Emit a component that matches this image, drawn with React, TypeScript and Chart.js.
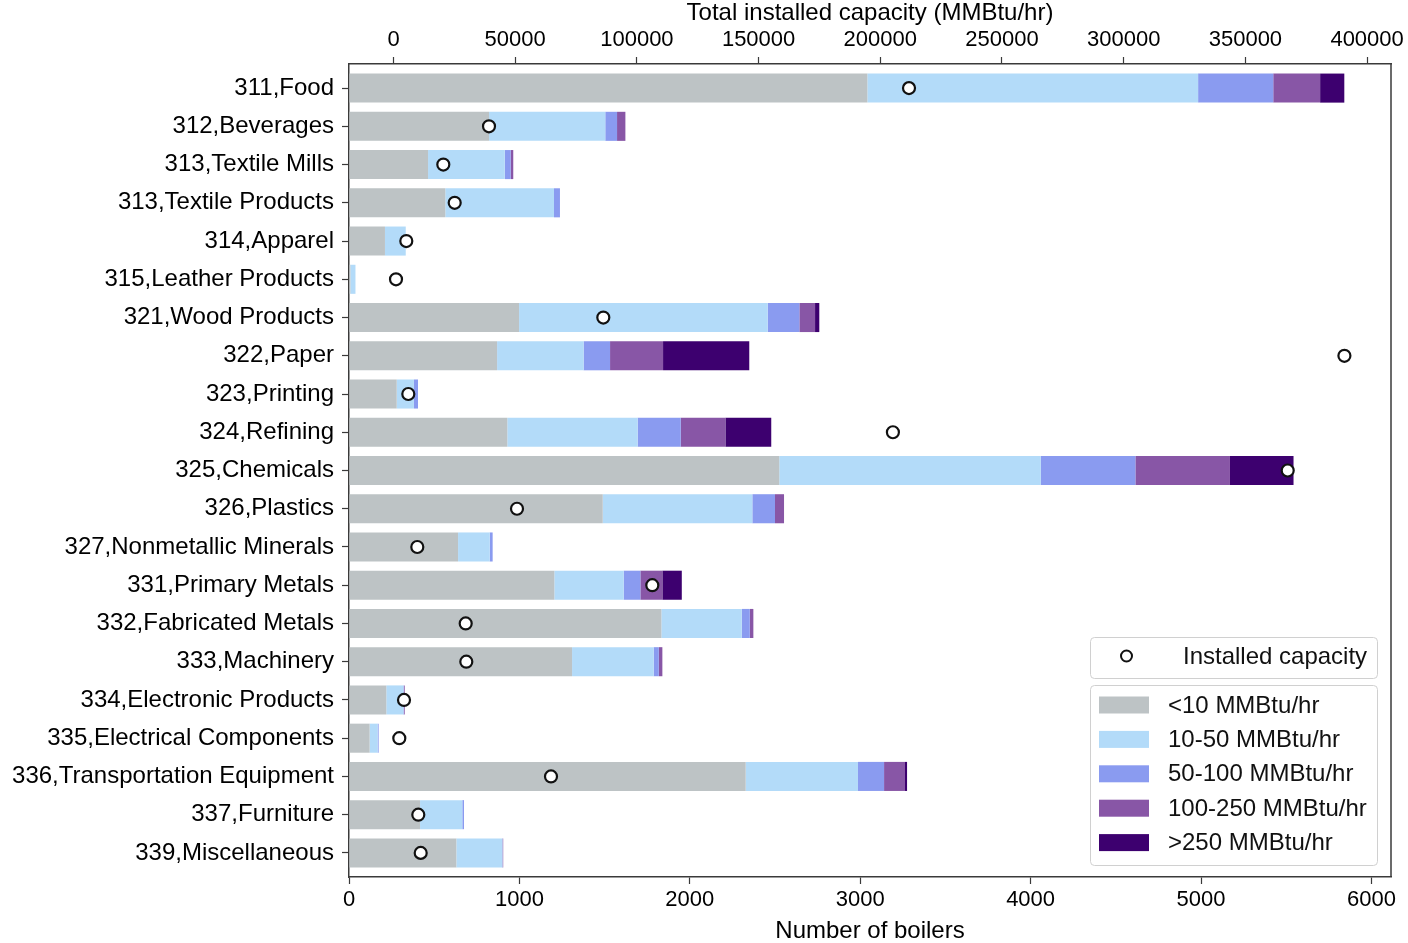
import React, { useEffect, useRef } from 'react';
import { Chart, registerables } from 'chart.js';

Chart.register(...registerables);

const CATEGORIES = [
  '311,Food', '312,Beverages', '313,Textile Mills', '313,Textile Products', '314,Apparel',
  '315,Leather Products', '321,Wood Products', '322,Paper', '323,Printing', '324,Refining',
  '325,Chemicals', '326,Plastics', '327,Nonmetallic Minerals', '331,Primary Metals',
  '332,Fabricated Metals', '333,Machinery', '334,Electronic Products', '335,Electrical Components',
  '336,Transportation Equipment', '337,Furniture', '339,Miscellaneous',
];

const SERIES_LABELS = ['<10 MMBtu/hr', '10-50 MMBtu/hr', '50-100 MMBtu/hr', '100-250 MMBtu/hr', '>250 MMBtu/hr'];
const CAPACITY_LABEL = 'Installed capacity';

// Number of boilers per size class
const LT10 = [3042, 822, 464, 565, 211, 8, 998, 869, 280, 929, 2525, 1489, 640, 1205, 1833, 1309, 219, 121, 2328, 417, 630];
const R10_50 = [1941, 682, 450, 638, 122, 30, 1459, 508, 101, 765, 1535, 878, 186, 407, 472, 479, 100, 47, 659, 248, 270];
const R50_100 = [441, 69, 35, 35, 0, 0, 186, 155, 24, 253, 555, 133, 17, 98, 47, 30, 3, 6, 153, 10, 1];
const R100_250 = [275, 49, 15, 0, 0, 0, 92, 311, 0, 262, 555, 53, 0, 129, 21, 21, 5, 0, 123, 0, 4];
const GT250 = [142, 0, 0, 0, 0, 0, 25, 506, 0, 269, 373, 0, 0, 114, 0, 0, 0, 0, 12, 0, 0];

// Total installed capacity (MMBtu/hr)
const CAPACITY = [211793, 39236, 20460, 25144, 5259, 1027, 86196, 390677, 6081, 205179, 367382, 50740, 9778, 106328, 29663, 29910, 4314, 2383, 64709, 10189, 11175];

const BOTTOM_TICKS = [0, 1000, 2000, 3000, 4000, 5000, 6000];
const TOP_TICKS = [0, 50000, 100000, 150000, 200000, 250000, 300000, 350000, 400000];

const SERIES_COLORS = ['#BDC3C5', '#B3DBF9', '#8A9BF0', '#8856A6', '#3D006F'];
const FONT = "'Liberation Sans', Arial, Helvetica, sans-serif";
const AXIS_COLOR = '#3a3a3a';

const framePlugin = {
  id: 'frame',
  afterDatasetsDraw(chart: any) {
    const { ctx, chartArea } = chart;
    ctx.save();
    ctx.strokeStyle = AXIS_COLOR;
    ctx.lineWidth = 1.5;
    ctx.beginPath();
    ctx.moveTo(chartArea.right, chartArea.top);
    ctx.lineTo(chartArea.right, chartArea.bottom);
    ctx.stroke();
    ctx.restore();
  },
};

function roundRectPath(ctx: CanvasRenderingContext2D, x: number, y: number, w: number, h: number, r: number) {
  ctx.beginPath();
  ctx.moveTo(x + r, y);
  ctx.lineTo(x + w - r, y);
  ctx.arcTo(x + w, y, x + w, y + r, r);
  ctx.lineTo(x + w, y + h - r);
  ctx.arcTo(x + w, y + h, x + w - r, y + h, r);
  ctx.lineTo(x + r, y + h);
  ctx.arcTo(x, y + h, x, y + h - r, r);
  ctx.lineTo(x, y + r);
  ctx.arcTo(x, y, x + r, y, r);
  ctx.closePath();
}

const legendPlugin = {
  id: 'customLegend',
  afterDraw(chart: any) {
    const ctx: CanvasRenderingContext2D = chart.ctx;
    ctx.save();
    ctx.font = `24px ${FONT}`;
    ctx.textBaseline = 'middle';
    ctx.textAlign = 'left';

    // Box for the scatter marker
    roundRectPath(ctx, 1090.5, 637.5, 287, 41, 4);
    ctx.fillStyle = 'rgba(255,255,255,0.85)';
    ctx.fill();
    ctx.strokeStyle = '#d0d0d0';
    ctx.lineWidth = 1;
    ctx.stroke();
    ctx.beginPath();
    ctx.arc(1126.5, 656, 5.5, 0, Math.PI * 2);
    ctx.fillStyle = '#ffffff';
    ctx.fill();
    ctx.lineWidth = 2;
    ctx.strokeStyle = '#111';
    ctx.stroke();
    ctx.fillStyle = '#111';
    ctx.fillText(CAPACITY_LABEL, 1183, 657);

    // Box for the bar series
    roundRectPath(ctx, 1090.5, 685.5, 287, 180, 4);
    ctx.fillStyle = 'rgba(255,255,255,0.85)';
    ctx.fill();
    ctx.strokeStyle = '#d0d0d0';
    ctx.lineWidth = 1;
    ctx.stroke();
    const barSets = chart.data.datasets.filter((d: any) => d.type === 'bar');
    barSets.forEach((d: any, i: number) => {
      const cy = 705 + i * 34.4;
      ctx.fillStyle = d.backgroundColor;
      ctx.fillRect(1099, cy - 8.5, 50, 17);
      ctx.fillStyle = '#111';
      ctx.fillText(d.label, 1168, cy + 1);
    });
    ctx.restore();
  },
};

export default function App() {
  const ref = useRef<HTMLCanvasElement>(null);

  useEffect(() => {
    const canvas = ref.current;
    if (!canvas) return;
    const seriesArrays = [LT10, R10_50, R50_100, R100_250, GT250];
    const datasets: any[] = seriesArrays.map((arr, k) => ({
      type: 'bar',
      label: SERIES_LABELS[k],
      data: arr.map((v, i) => ({ x: v, y: i })),
      indexAxis: 'y',
      xAxisID: 'x',
      yAxisID: 'y',
      stack: 'boilers',
      grouped: false,
      backgroundColor: SERIES_COLORS[k],
      borderWidth: 0,
      barPercentage: 0.76,
      categoryPercentage: 1,
      order: 1,
    }));
    datasets.push({
      type: 'scatter',
      label: CAPACITY_LABEL,
      data: CAPACITY.map((v, i) => ({ x: v, y: i })),
      indexAxis: 'x',
      xAxisID: 'x2',
      yAxisID: 'y',
      pointRadius: 6,
      pointHoverRadius: 6,
      pointBackgroundColor: '#ffffff',
      pointBorderColor: '#111111',
      pointBorderWidth: 2.2,
      order: 0,
    });

    const tickFont = { family: FONT, size: 22 };

    const chart = new Chart(canvas, {
      type: 'bar',
      data: { datasets },
      plugins: [framePlugin, legendPlugin],
      options: {
        responsive: false,
        animation: false,
        events: [],
        layout: { padding: { left: 0, top: 0, bottom: 0, right: 17 } },
        plugins: { legend: { display: false }, tooltip: { enabled: false } },
        scales: {
          x: {
            type: 'linear',
            axis: 'x',
            position: 'bottom',
            min: 0,
            max: 6115,
            offset: false,
            stacked: true,
            grid: { drawOnChartArea: false, drawTicks: true, tickLength: 7, tickColor: AXIS_COLOR, tickWidth: 1.2, offset: false },
            border: { display: true, color: AXIS_COLOR, width: 1.5 },
            afterBuildTicks: (s: any) => { s.ticks = BOTTOM_TICKS.map((v) => ({ value: v })); },
            afterFit: (s: any) => { s.height = 66; s.paddingLeft = 0; s.paddingRight = 0; },
            ticks: { autoSkip: false, maxRotation: 0, padding: 3, color: '#000', font: tickFont, callback: (v: any) => String(v) },
            title: { display: true, text: 'Number of boilers', color: '#000', font: { family: FONT, size: 24, lineHeight: 0.95 }, padding: { top: 0, bottom: 0 } },
          },
          x2: {
            type: 'linear',
            axis: 'x',
            position: 'top',
            min: -18283,
            max: 409820,
            offset: false,
            grid: { drawOnChartArea: false, drawTicks: true, tickLength: 7, tickColor: AXIS_COLOR, tickWidth: 1.2, offset: false },
            border: { display: true, color: AXIS_COLOR, width: 1.5 },
            afterBuildTicks: (s: any) => { s.ticks = TOP_TICKS.map((v) => ({ value: v })); },
            afterFit: (s: any) => { s.height = 64; s.paddingLeft = 0; s.paddingRight = 0; },
            ticks: { autoSkip: false, maxRotation: 0, padding: 4, color: '#000', font: tickFont, callback: (v: any) => String(v) },
            title: { display: true, text: 'Total installed capacity (MMBtu/hr)', color: '#000', font: { family: FONT, size: 24, lineHeight: 1.15 }, padding: { top: 0, bottom: 0 } },
          },
          y: {
            type: 'linear',
            axis: 'y',
            position: 'left',
            min: -0.63,
            max: 20.63,
            reverse: true,
            offset: false,
            beginAtZero: false,
            grid: { drawOnChartArea: false, drawTicks: true, tickLength: 7, tickColor: AXIS_COLOR, tickWidth: 1.2, offset: false },
            border: { display: true, color: AXIS_COLOR, width: 1.5 },
            afterBuildTicks: (s: any) => { s.ticks = CATEGORIES.map((_, i) => ({ value: i })); },
            afterFit: (s: any) => { s.width = 349; s.paddingTop = 0; s.paddingBottom = 0; },
            ticks: {
              autoSkip: false,
              padding: 8,
              color: '#000',
              font: { family: FONT, size: 24 },
              callback: (v: any) => CATEGORIES[v as number] ?? '',
            },
          },
        },
      } as any,
    });
    return () => chart.destroy();
  }, []);

  return (
    <div style={{ position: 'absolute', left: 0, top: 0, width: 1408, height: 943, background: '#fff' }}>
      <canvas ref={ref} width={1408} height={943} style={{ display: 'block', width: 1408, height: 943 }} />
    </div>
  );
}
